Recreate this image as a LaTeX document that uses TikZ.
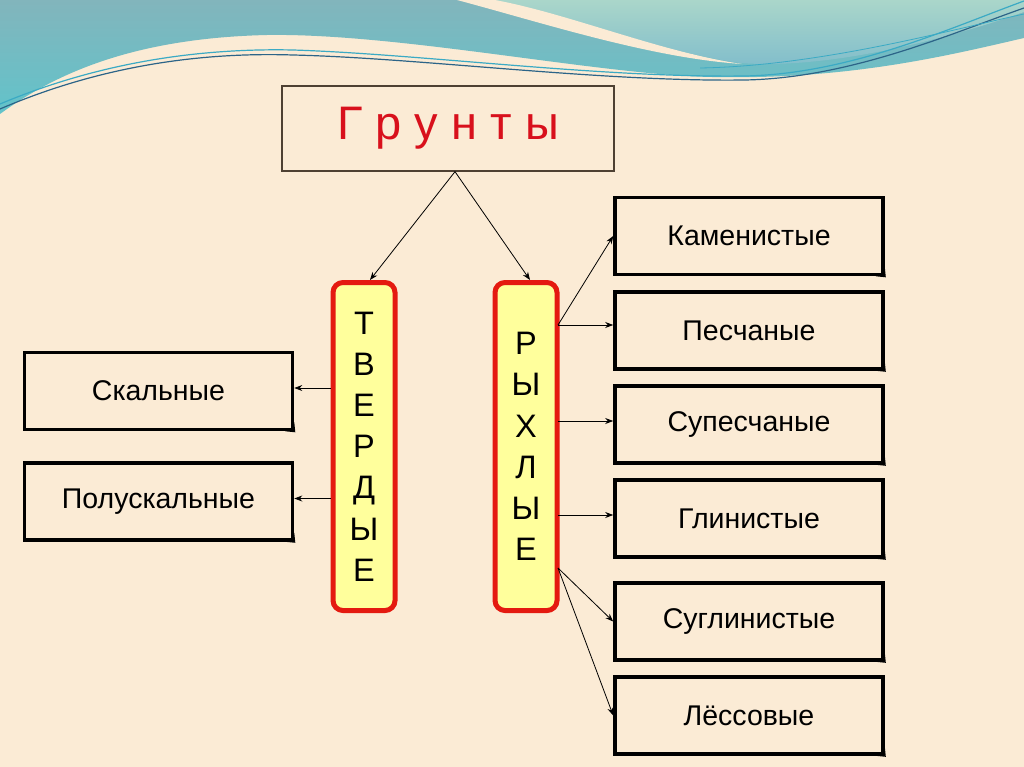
\documentclass[tikz,border=0pt]{standalone}
\usepackage{fontspec}
\setmainfont{Liberation Sans}
\usetikzlibrary{arrows.meta,calc}
\definecolor{bg}{HTML}{FBEBD5}
\definecolor{tealtop}{HTML}{82B5BC}
\definecolor{tealbot}{HTML}{62C3CA}
\definecolor{lighttop}{HTML}{AAD6CA}
\definecolor{lightbot}{HTML}{7FBCCB}
\definecolor{wavedark}{HTML}{2C6488}
\definecolor{wavelight}{HTML}{3BAAC4}
\definecolor{titlered}{HTML}{D8101C}
\definecolor{boxred}{HTML}{E41A10}
\definecolor{boxyellow}{HTML}{FFFF9C}
\definecolor{titleborder}{HTML}{4E4032}
\tikzset{
  titlebox/.style={draw=titleborder, line width=1.3pt, fill=bg, minimum width=332pt, minimum height=85pt,
    font=\fontsize{47}{47}\selectfont, text=titlered, inner sep=0pt},
  vbox/.style={draw=boxred, line width=5pt, fill=boxyellow, rounded corners=10pt,
    minimum width=62pt, minimum height=328pt, inner sep=0pt, align=center,
    font=\fontsize{32.5}{41.2}\selectfont},
  sbox/.style={draw=black, line width=3.6pt, fill=bg, minimum width=268pt, minimum height=77pt,
    inner sep=0pt, font=\fontsize{28.5}{28.5}\selectfont},
  conn/.style={-{Stealth[length=8pt,width=6pt]}, line width=0.8pt, black},
}
\newcommand{\curl}[1]{\fill[black] ([yshift=9pt]#1.south east) -- ([xshift=1pt,yshift=-1pt]#1.south east) -- ([xshift=-9pt]#1.south east) .. controls ([xshift=-5pt,yshift=1pt]#1.south east) and ([xshift=-1pt,yshift=5pt]#1.south east) .. cycle;}
\begin{document}
\begin{tikzpicture}[x=1pt,y=-1pt]
\useasboundingbox (0,0) rectangle (1024,767);
\fill[bg] (0,0) rectangle (1024,767);
% wave: dark teal base
\shade[top color=tealtop, bottom color=tealbot]
  (0,0) -- (1024,0) -- (1024,38)
  .. controls (950,55) and (850,80) .. (712,77)
  .. controls (600,75) and (400,33) .. (267,35)
  .. controls (140,38) and (60,70) .. (0,114) -- cycle;
% light region upper right
\shade[top color=lighttop, bottom color=lightbot]
  (493,0) .. controls (560,12) and (660,52) .. (740,63)
  .. controls (830,70) and (950,38) .. (1024,12) -- (1024,0) -- cycle;
% crescent
\fill[bg] (457,0) .. controls (540,22) and (650,58) .. (742,64)
  .. controls (660,52) and (570,14) .. (495,0) -- cycle;
% wave lines
\draw[wavelight, line width=1.2pt] (0,104) .. controls (100,62) and (200,48) .. (293,50)
  .. controls (420,54) and (600,78) .. (745,76) .. controls (850,74) and (950,28) .. (1024,1);
\draw[wavedark, line width=1.2pt] (0,109) .. controls (100,66) and (200,52) .. (293,55)
  .. controls (420,58) and (600,82) .. (745,80) .. controls (850,78) and (950,34) .. (1024,8);
\draw[wavelight, line width=0.8pt] (700,68) .. controls (820,66) and (950,30) .. (1024,14);

% title
\node[titlebox] (title) at (448,128.5) {Г р у н т ы};
% vertical boxes
\node[vbox] (tv) at (364,446.5) {Т\\В\\Е\\Р\\Д\\Ы\\Е};
\node[vbox] (rx) at (526,446.5) {Р\\Ы\\Х\\Л\\Ы\\Е};
% left boxes
\node[sbox] (skal) at (158.5,391) {Скальные};
\node[sbox] (polu) at (158.5,501.5) {Полускальные};
% right boxes
\node[sbox] (kam) at (749,236) {Каменистые};
\node[sbox] (pes) at (749,330.5) {Песчаные};
\node[sbox] (sup) at (749,424.5) {Супесчаные};
\node[sbox] (gli) at (749,518.5) {Глинистые};
\node[sbox] (sug) at (749,621.5) {Суглинистые};
\node[sbox] (les) at (749,715.5) {Лёссовые};
\foreach \n in {skal,polu,kam,pes,sup,gli,sug,les} {\curl{\n}}

% connectors
\draw[conn] ([xshift=7pt]title.south) -- ([xshift=6pt]tv.north);
\draw[conn] ([xshift=7pt]title.south) -- ([xshift=4pt]rx.north);
\draw[conn] ([yshift=3pt]skal.east -| tv.west) -- ([yshift=3pt]skal.east);
\draw[conn] ([yshift=3pt]polu.east -| tv.west) -- ([yshift=3pt]polu.east);
\coordinate (r1) at (558,325);
\coordinate (r3) at (558,421);
\coordinate (r4) at (558,515);
\coordinate (r2) at (558,568);
\draw[conn] (r1) -- (kam.west);
\draw[conn] (r1) -- (r1 -| pes.west);
\draw[conn] (r3) -- (r3 -| sup.west);
\draw[conn] (r4) -- (r4 -| gli.west);
\draw[conn] (r2) -- (sug.west);
\draw[conn] (r2) -- (les.west);
\end{tikzpicture}
\end{document}
